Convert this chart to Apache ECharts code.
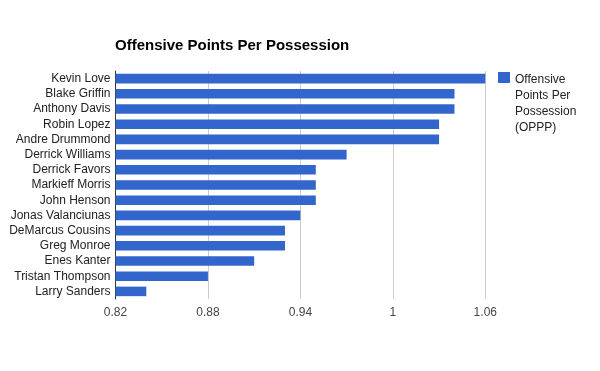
<!DOCTYPE html>
<html><head><meta charset="utf-8">
<script src="https://cdn.jsdelivr.net/npm/echarts@6/dist/echarts.min.js"></script>
<style>html,body{margin:0;padding:0;background:#fff}#c{width:600px;height:371px}</style>
</head><body><div id="c"></div>
<script>
const players = ["Kevin Love","Blake Griffin","Anthony Davis","Robin Lopez","Andre Drummond","Derrick Williams","Derrick Favors","Markieff Morris","John Henson","Jonas Valanciunas","DeMarcus Cousins","Greg Monroe","Enes Kanter","Tristan Thompson","Larry Sanders"];
const oppp = [1.06,1.04,1.04,1.03,1.03,0.97,0.95,0.95,0.95,0.94,0.93,0.93,0.91,0.88,0.84];
const xTicks = [0.82,0.88,0.94,1,1.06];
const seriesName = "Offensive Points Per Possession (OPPP)";
const F = "Arial, 'Liberation Sans', sans-serif";
const chart = echarts.init(document.getElementById('c'), null, {renderer:'canvas'});
chart.setOption({
  animation:false,
  title:{text:"Offensive Points Per Possession",left:110,top:33,textStyle:{fontFamily:F,fontSize:15,fontWeight:'bold',color:'#000'}},
  legend:{left:493,top:67,orient:'vertical',itemWidth:12,itemHeight:64,itemGap:0,
    icon:'path://M0,0H12V11H0Z M0,64H0.01V64.01H0Z',
    formatter:()=>"Offensive\nPoints Per\nPossession\n(OPPP)",
    textStyle:{fontFamily:F,fontSize:12,color:'#222',lineHeight:16}},
  grid:{left:115.5,right:114.7,top:71,height:228,containLabel:false},
  xAxis:{type:'value',min:xTicks[0],max:xTicks[xTicks.length-1],interval:0.06,
    axisLine:{show:false},axisTick:{show:false},
    splitLine:{show:true,lineStyle:{color:'#cccccc',width:1}},
    axisLabel:{fontFamily:F,fontSize:12,color:'#444',margin:8,formatter:v=>String(+v.toFixed(2))}},
  yAxis:{type:'category',inverse:true,data:players,
    axisLine:{show:true,lineStyle:{color:'#333',width:1}},axisTick:{show:false},
    axisLabel:{fontFamily:F,fontSize:12,color:'#222',margin:5,interval:0}},
  series:[{type:'bar',name:seriesName,data:oppp,itemStyle:{color:'#3366cc'},barCategoryGap:'37%'}]
});
</script></body></html>
